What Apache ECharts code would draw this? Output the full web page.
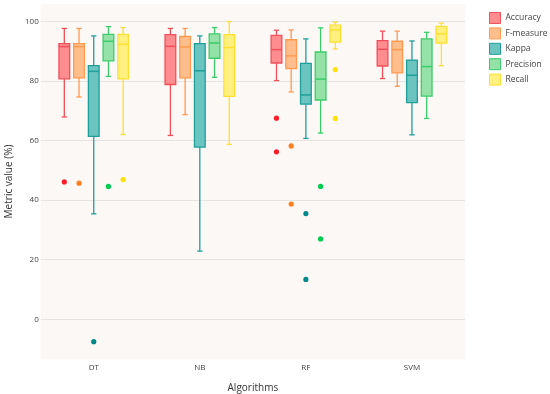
<!DOCTYPE html>
<html>
<head>
<meta charset="utf-8">
<script src="https://cdn.jsdelivr.net/npm/echarts@6/dist/echarts.min.js"></script>
<style>html,body{margin:0;padding:0;background:#fff}#c{width:550px;height:394px}</style>
</head>
<body>
<div id="c"></div>
<script>
// Categories and tick labels
const categories = ['DT', 'NB', 'RF', 'SVM'];
const yTicks = [0, 20, 40, 60, 80, 100];
const metrics = ['Accuracy', 'F-measure', 'Kappa', 'Precision', 'Recall'];

// Box statistics per algorithm: [lower whisker, Q1, median, Q3, upper whisker]
const accuracyBoxes = [
  [67.9, 80.7, 91.5, 92.5, 97.6],
  [61.7, 78.8, 91.6, 95.5, 97.6],
  [80.1, 86.0, 90.5, 95.3, 97.0],
  [80.8, 85.0, 90.6, 93.5, 96.7]
];
const fmeasureBoxes = [
  [74.6, 81.0, 91.5, 92.5, 97.6],
  [68.7, 81.0, 91.4, 94.9, 97.6],
  [76.3, 84.1, 88.4, 93.8, 97.1],
  [78.2, 82.7, 90.5, 93.3, 96.7]
];
const kappaBoxes = [
  [35.4, 61.4, 83.2, 85.1, 95.1],
  [22.9, 57.8, 83.4, 92.5, 95.1],
  [60.7, 72.2, 75.3, 85.9, 94.1],
  [61.9, 72.7, 81.9, 87.0, 93.4]
];
const precisionBoxes = [
  [81.5, 86.7, 93.3, 95.6, 98.2],
  [81.2, 87.6, 92.7, 95.8, 97.9],
  [62.5, 73.6, 80.6, 89.7, 97.8],
  [67.4, 74.9, 84.8, 94.1, 96.3]
];
const recallBoxes = [
  [62.0, 80.7, 92.3, 95.6, 97.9],
  [58.7, 74.8, 91.2, 95.5, 99.9],
  [90.7, 93.0, 97.1, 98.7, 99.7],
  [85.1, 92.7, 95.8, 98.3, 99.4]
];

// Outliers: [algorithm index, value]
const accuracyOutliers = [[0, 46.1], [2, 67.5], [2, 56.2]];
const fmeasureOutliers = [[0, 45.7], [2, 58.2], [2, 38.7]];
const kappaOutliers = [[0, -7.5], [2, 35.5], [2, 13.4]];
const precisionOutliers = [[0, 44.6], [2, 44.6], [2, 27.0]];
const recallOutliers = [[0, 46.9], [2, 83.8], [2, 67.4]];

const boxSets = [accuracyBoxes, fmeasureBoxes, kappaBoxes, precisionBoxes, recallBoxes];
const outlierSets = [accuracyOutliers, fmeasureOutliers, kappaOutliers, precisionOutliers, recallOutliers];

const strokeColors = ['#f0505a', '#ff9a52', '#1f9e9a', '#3ccc6c', '#ffdf33'];
const fillColors = ['#ff8d90', '#ffbe8c', '#6cc4c0', '#94e2a8', '#fff07f'];
const dotColors = ['#ff1f2a', '#ff7f1e', '#00898a', '#00cc50', '#ffe200'];

const SLOT = 0.1387, BOXW = 0.101;

function boxRenderer(idx) {
  return function (params, api) {
    const c = api.value(0);
    const band = api.size([1, 0])[0];
    const cx = api.coord([c, 0])[0] + (idx - 2) * band * SLOT;
    const w = band * BOXW;
    const y = (v) => api.coord([c, v])[1];
    const lo = y(api.value(1)), q1 = y(api.value(2)), md = y(api.value(3)), q3 = y(api.value(4)), hi = y(api.value(5));
    const ls = { stroke: strokeColors[idx], lineWidth: 1.3 };
    const cap = w * 0.25;
    return {
      type: 'group',
      children: [
        { type: 'line', shape: { x1: cx, y1: lo, x2: cx, y2: q1 }, style: ls },
        { type: 'line', shape: { x1: cx, y1: q3, x2: cx, y2: hi }, style: ls },
        { type: 'line', shape: { x1: cx - cap, y1: lo, x2: cx + cap, y2: lo }, style: ls },
        { type: 'line', shape: { x1: cx - cap, y1: hi, x2: cx + cap, y2: hi }, style: ls },
        { type: 'rect', shape: { x: cx - w / 2, y: q3, width: w, height: q1 - q3 },
          style: { fill: fillColors[idx], stroke: strokeColors[idx], lineWidth: 1.3 } },
        { type: 'line', shape: { x1: cx - w / 2, y1: md, x2: cx + w / 2, y2: md },
          style: { stroke: strokeColors[idx], lineWidth: 1.5 } }
      ]
    };
  };
}

function outlierRenderer(idx) {
  return function (params, api) {
    const c = api.value(0);
    const band = api.size([1, 0])[0];
    const p = api.coord([c, api.value(1)]);
    return {
      type: 'circle',
      shape: { cx: p[0] + (idx - 2) * band * SLOT, cy: p[1], r: 2.6 },
      style: { fill: dotColors[idx] }
    };
  };
}

const series = [];
metrics.forEach((m, i) => {
  series.push({
    name: m, type: 'custom',
    renderItem: boxRenderer(i),
    itemStyle: { color: fillColors[i], borderColor: strokeColors[i], borderWidth: 1 },
    encode: { x: 0, y: [1, 2, 3, 4, 5] },
    data: boxSets[i].map((b, k) => [k].concat(b))
  });
  series.push({
    name: m, type: 'custom',
    renderItem: outlierRenderer(i),
    itemStyle: { color: dotColors[i] },
    encode: { x: 0, y: 1 },
    data: outlierSets[i]
  });
});

const chart = echarts.init(document.getElementById('c'), null, { renderer: 'canvas' });
chart.setOption({
  animation: false,
  textStyle: { fontFamily: 'Open Sans' },
  grid: { left: 40.7, right: 85, top: 4, bottom: 35, show: true, backgroundColor: '#fcf8f5', borderWidth: 0,
          containLabel: false, outerBoundsMode: 'none' },
  legend: {
    orient: 'vertical', left: 484, top: 7,
    itemWidth: 11, itemHeight: 11, itemGap: 3.4,
    icon: 'rect',
    textStyle: { fontSize: 8.5, color: '#444', fontFamily: 'Open Sans', lineHeight: 11 },
    data: metrics.map((m, i) => ({
      name: m,
      itemStyle: { color: fillColors[i], borderColor: strokeColors[i], borderWidth: 1 }
    }))
  },
  xAxis: {
    type: 'category', data: categories,
    name: 'Algorithms', nameLocation: 'middle', nameGap: 24,
    nameTextStyle: { fontSize: 10, color: '#333', fontFamily: 'Open Sans' },
    axisLine: { show: false }, axisTick: { show: false },
    axisLabel: { fontSize: 8, color: '#444', margin: 5 },
    splitLine: { show: false }
  },
  yAxis: {
    type: 'value', min: -13.3, max: 105.8,
    name: 'Metric value (%)', nameLocation: 'middle', nameGap: 26,
    nameTextStyle: { fontSize: 10, color: '#333', fontFamily: 'Open Sans' },
    axisLine: { show: false },
    axisTick: { show: false, customValues: yTicks },
    axisLabel: { fontSize: 8, color: '#444', margin: 2, customValues: yTicks },
    splitLine: { show: true, lineStyle: { color: '#e4e4e4', width: 1 } }
  },
  series: series
});
</script>
</body>
</html>
